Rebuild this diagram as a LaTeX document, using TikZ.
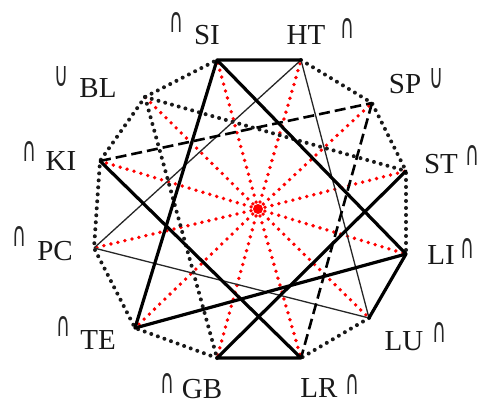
\documentclass[tikz,border=0pt]{standalone}
\usepackage{fontspec}
\setmainfont{Liberation Serif}
\newfontfamily\symfont{DejaVu Sans}
\usepackage{graphicx}
\begin{document}
\begin{tikzpicture}[x=1pt,y=-1pt,
  perim/.style={line width=4pt,dash pattern=on 0pt off 7pt,line cap=round,black!90},
  reddot/.style={line width=3.8pt,dash pattern=on 0pt off 7.2pt,line cap=round,red},
  heavy/.style={line width=3.2pt,black,line cap=round,line join=round},
  light/.style={line width=1.3pt,black!85},
  longdash/.style={line width=2.6pt,dash pattern=on 11pt off 5pt,black},
  lab/.style={font=\fontsize{29}{31}\selectfont,inner sep=0pt,text=black!90},
  sym/.style={inner sep=0pt,text=black!85}
]
\newcommand\mycap{\resizebox{14pt}{20pt}{\symfont ∩}}
\newcommand\mycup{\resizebox{14pt}{20pt}{\symfont ∪}}
\useasboundingbox (0,0) rectangle (482,405);
% vertices
\coordinate (C) at (258,209);
\coordinate (SI) at (217,60);
\coordinate (HT) at (301,60);
\coordinate (SP) at (372,103);
\coordinate (ST) at (406,171);
\coordinate (LI) at (406,254);
\coordinate (LU) at (369,318);
\coordinate (LR) at (301,358);
\coordinate (GB) at (217,358);
\coordinate (TE) at (135,328);
\coordinate (PC) at (94,248);
\coordinate (KI) at (100,161);
\coordinate (BL) at (145,97);
% red spokes
\foreach \v in {SI,HT,SP,ST,LI,LU,LR,GB,TE,PC,KI,BL}
  \draw[reddot] (C) -- (\v);
\fill[red] (C) circle (5);
% perimeter dotted
\draw[perim] (HT) -- (SP) -- (ST) -- (LI);
\draw[perim] (LU) -- (LR);
\draw[perim] (GB) -- (TE) -- (PC) -- (KI) -- (BL) -- (SI);
% dotted chords
\draw[perim] (BL) -- (ST);
\draw[perim] (BL) -- (GB);
% thin chords
\draw[light] (HT) -- (PC);
\draw[light] (HT) -- (LU);
\draw[light] (PC) -- (LU);
% dashed chords
\draw[longdash] (KI) -- (SP);
\draw[longdash] (SP) -- (LR);
% heavy chords
\draw[heavy] (TE) -- (SI) -- (HT);
\draw[heavy] (SI) -- (LI) -- (LU);
\draw[heavy] (TE) -- (LI);
\draw[heavy] (KI) -- (LR) -- (GB) -- (ST);
% labels
\node[lab] (SIl) at (207,35) {SI};
\node[sym] (SIs) at (176,22) {\mycap};
\node[lab] (HTl) at (306,35) {HT};
\node[sym] (HTs) at (347,28) {\mycap};
\node[lab] (SPl) at (405,84) {SP};
\node[sym] (SPs) at (436,78) {\mycup};
\node[lab] (STl) at (441,164) {ST};
\node[sym] (STs) at (472,155) {\mycap};
\node[lab] (LIl) at (441,255) {LI};
\node[sym] (LIs) at (467,248) {\mycap};
\node[lab] (LUl) at (404,341) {LU};
\node[sym] (LUs) at (439,332) {\mycap};
\node[lab] (LRl) at (319,388) {LR};
\node[sym] (LRs) at (352,384) {\mycap};
\node[lab] (GBl) at (202,389) {GB};
\node[sym] (GBs) at (167,383) {\mycap};
\node[lab] (TEl) at (98,340) {TE};
\node[sym] (TEs) at (63,326) {\mycap};
\node[lab] (PCl) at (55,251) {PC};
\node[sym] (PCs) at (19,236) {\mycap};
\node[lab] (KIl) at (61,161) {KI};
\node[sym] (KIs) at (29,151) {\mycap};
\node[lab] (BLl) at (98,88) {BL};
\node[sym] (BLs) at (61,76) {\mycup};
\end{tikzpicture}
\end{document}
